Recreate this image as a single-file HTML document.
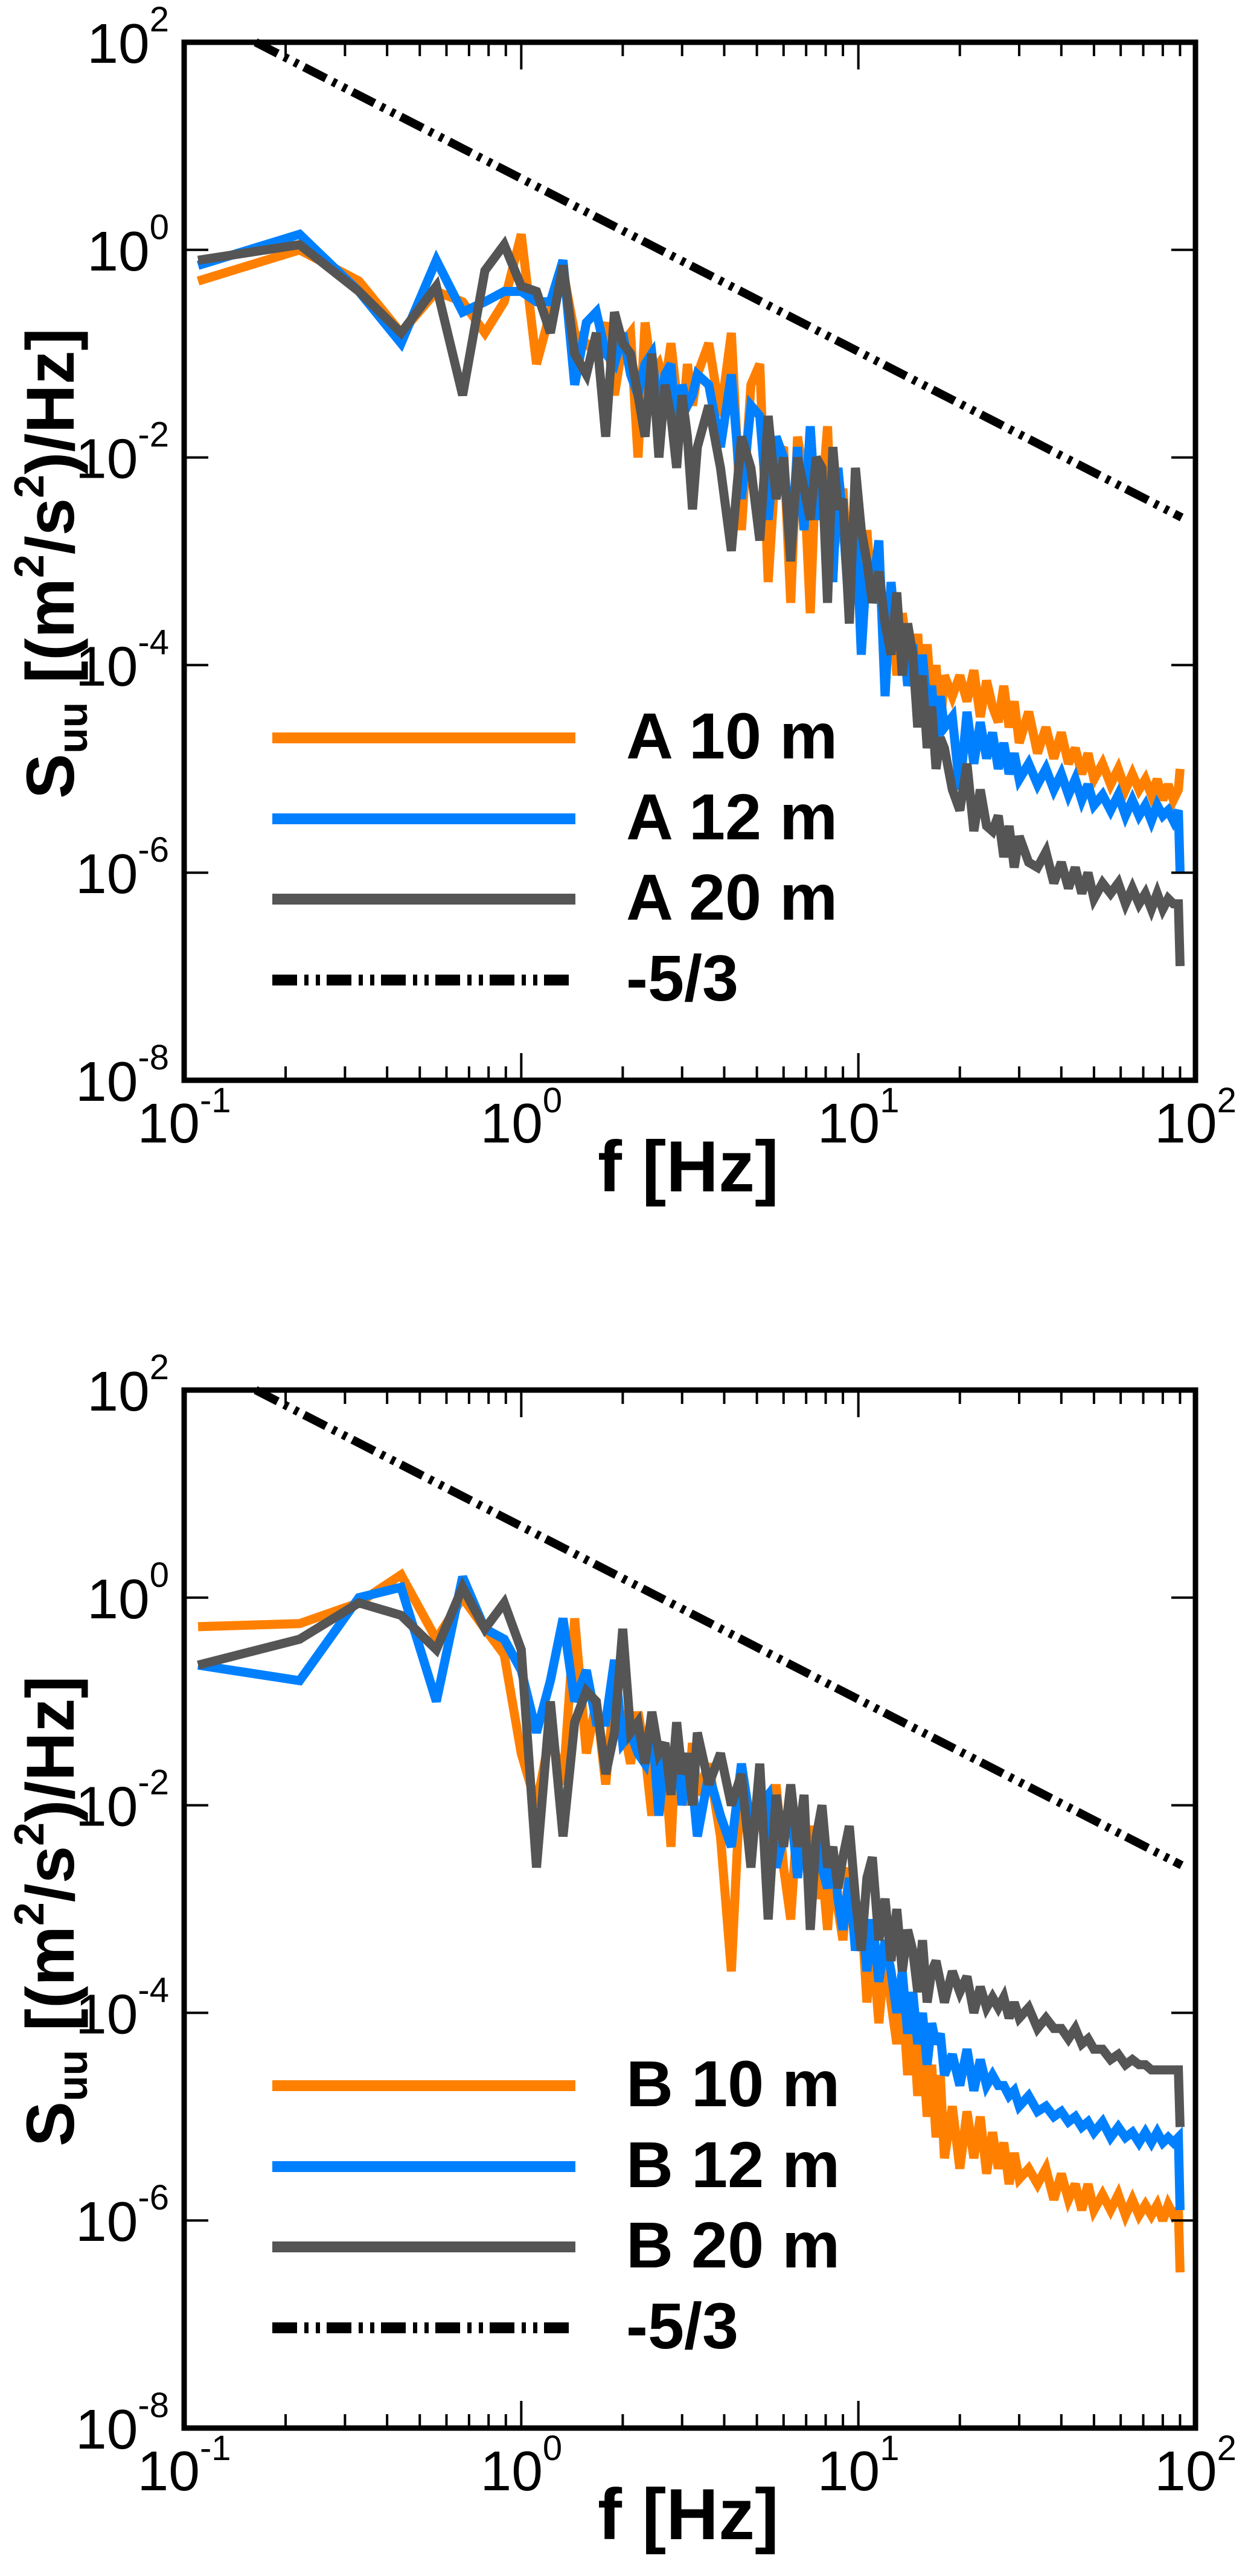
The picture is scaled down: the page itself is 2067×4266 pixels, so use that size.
<!DOCTYPE html>
<html><head><meta charset="utf-8"><style>
html,body{margin:0;padding:0;background:#fff;}
svg{display:block;font-family:"Liberation Sans",Arial,sans-serif;}
</style></head><body>
<svg id="fig" width="2067" height="4266" viewBox="0 0 2067 4266" xmlns="http://www.w3.org/2000/svg"></svg>
<script>
// ---- data (shared frequency grid, Hz) ----
const freqs = [0.11,0.22,0.33,0.44,0.56,0.67,0.78,0.89,1.0,1.11,1.22,1.33,1.44,1.56,1.67,1.78,1.89,2.0,2.11,2.22,2.33,2.44,2.56,2.67,2.78,2.89,3.0,3.11,3.22,3.33,
3.6,3.9,4.2,4.5,4.8,5.1,5.4,5.7,6.0,6.3,6.6,6.9,7.2,7.5,7.8,8.1,8.4,8.7,9.0,9.4,9.8,10.2,10.6,11.0,11.5,12,12.5,13,13.5,14,14.5,15,15.5,16,16.5,17,17.5,18,19,20,
21,22,23,24,25,26,27,28,29,30,32,34,36,38,40,42,44,46,48,50,53,56,59,62,65,68,71,74,77,80,83,86,89,90];
// log10 of S_uu
const logA10 = [-0.3,0.0,-0.3,-0.8,-0.4,-0.5,-0.8,-0.5,0.15,-1.1,-0.6,-0.2,-0.8,-0.9,-1.0,-0.7,-1.4,-0.9,-0.8,-2.0,-0.7,-1.2,-1.1,-1.3,-0.9,-1.4,-1.7,-1.1,-1.5,-1.2,
-0.9,-1.6,-0.8,-2.7,-1.3,-1.1,-3.2,-2.0,-1.9,-3.4,-1.8,-2.2,-3.5,-2.0,-2.4,-1.7,-3.0,-2.6,-2.3,-3.3,-2.8,-3.7,-2.7,-3.4,-2.9,-3.9,-3.3,-4.1,-3.5,-3.9,-4.2,-3.7,-4.5,-3.8,-4.4,-4.0,-4.6,-4.1,-4.3,-4.1,
-4.35,-4.05,-4.5,-4.15,-4.4,-4.55,-4.2,-4.6,-4.35,-4.75,-4.45,-4.85,-4.6,-4.9,-4.65,-4.95,-4.8,-5.05,-4.85,-5.1,-4.95,-5.15,-5.0,-5.2,-5.05,-5.2,-5.1,-5.25,-5.1,-5.3,-5.15,-5.3,-5.2,-5.0];
const logA12 = [-0.15,0.15,-0.4,-0.9,-0.1,-0.6,-0.5,-0.4,-0.4,-0.5,-0.5,-0.1,-1.3,-0.7,-0.6,-1.0,-1.1,-0.8,-1.2,-1.4,-1.1,-1.0,-1.6,-1.2,-1.1,-1.8,-1.3,-1.5,-1.4,-1.2,
-1.3,-1.9,-1.2,-2.4,-1.5,-1.6,-2.6,-1.8,-2.0,-2.9,-1.9,-2.7,-1.7,-2.6,-2.2,-2.4,-3.2,-2.1,-2.6,-3.5,-2.5,-3.9,-3.0,-3.3,-2.8,-4.3,-3.2,-3.8,-3.6,-4.2,-3.8,-4.6,-3.9,-4.4,-4.2,-4.7,-4.3,-4.6,-4.5,-5.2,
-4.45,-4.95,-4.55,-4.9,-4.65,-5.0,-4.75,-5.05,-4.85,-5.1,-4.95,-5.15,-5.0,-5.2,-5.05,-5.25,-5.1,-5.3,-5.15,-5.35,-5.25,-5.4,-5.25,-5.45,-5.3,-5.45,-5.35,-5.5,-5.35,-5.45,-5.4,-5.5,-5.4,-6.0];
const logA20 = [-0.1,0.05,-0.4,-0.8,-0.35,-1.4,-0.2,0.05,-0.35,-0.4,-0.8,-0.15,-1.0,-1.2,-0.8,-1.8,-0.6,-0.9,-1.0,-1.4,-1.8,-1.0,-2.0,-1.3,-1.6,-2.1,-1.4,-1.8,-2.5,-1.9,
-1.5,-2.1,-2.9,-1.8,-2.1,-2.8,-1.6,-2.4,-2.0,-3.0,-2.0,-2.3,-2.6,-2.0,-2.1,-3.4,-1.9,-2.5,-2.4,-3.6,-2.1,-2.7,-3.0,-3.4,-3.1,-3.6,-3.9,-3.3,-4.1,-3.6,-3.9,-4.6,-4.1,-4.8,-4.4,-5.0,-4.7,-4.8,-5.2,-5.4,
-4.95,-5.6,-5.2,-5.55,-5.6,-5.45,-5.85,-5.55,-5.95,-5.65,-5.9,-5.95,-5.8,-6.1,-5.9,-6.15,-5.95,-6.2,-6.0,-6.25,-6.1,-6.2,-6.1,-6.3,-6.15,-6.3,-6.2,-6.35,-6.2,-6.35,-6.25,-6.3,-6.3,-6.9];
const logB10 = [-0.28,-0.25,-0.05,0.22,-0.4,0.0,-0.3,-0.55,-1.5,-2.0,-1.3,-1.8,-0.2,-1.5,-1.0,-1.8,-0.9,-1.2,-1.6,-1.1,-1.5,-2.1,-1.4,-1.6,-2.4,-1.2,-1.7,-2.0,-1.4,-1.9,
-1.6,-2.3,-3.6,-1.6,-2.4,-2.0,-2.5,-1.8,-2.6,-3.1,-2.1,-2.5,-2.2,-2.9,-2.6,-3.2,-2.5,-3.0,-3.3,-2.6,-3.4,-3.0,-3.9,-3.3,-4.1,-3.4,-3.9,-4.3,-3.8,-4.6,-4.0,-4.8,-4.3,-5.0,-4.5,-5.2,-4.6,-5.4,-4.9,-5.5,
-4.95,-5.4,-5.0,-5.55,-5.15,-5.5,-5.25,-5.65,-5.35,-5.6,-5.5,-5.65,-5.5,-5.8,-5.55,-5.8,-5.65,-5.9,-5.65,-5.9,-5.75,-5.9,-5.75,-5.95,-5.8,-5.95,-5.85,-5.95,-5.85,-6.0,-5.85,-5.95,-5.9,-6.5];
const logB12 = [-0.65,-0.8,0.0,0.1,-1.0,0.2,-0.3,-0.4,-0.7,-1.3,-0.8,-0.2,-1.0,-0.7,-1.2,-1.2,-0.6,-1.4,-1.3,-1.5,-1.6,-1.2,-2.1,-1.5,-1.8,-1.4,-2.0,-1.5,-1.8,-2.3,
-1.7,-2.1,-2.4,-1.6,-2.2,-2.0,-1.9,-2.6,-2.3,-2.0,-2.7,-2.1,-2.9,-2.3,-2.6,-2.8,-2.4,-2.9,-3.2,-2.7,-3.4,-3.0,-3.6,-3.1,-3.7,-3.3,-3.6,-4.0,-3.6,-4.2,-3.8,-4.3,-4.0,-4.5,-4.1,-4.3,-4.2,-4.6,-4.4,-4.7,
-4.35,-4.75,-4.45,-4.7,-4.6,-4.7,-4.7,-4.8,-4.75,-4.9,-4.8,-4.95,-4.9,-5.0,-4.95,-5.05,-5.0,-5.1,-5.05,-5.15,-5.05,-5.2,-5.1,-5.2,-5.15,-5.25,-5.15,-5.25,-5.15,-5.25,-5.2,-5.25,-5.2,-5.9];
const logB20 = [-0.65,-0.4,-0.05,-0.17,-0.5,0.1,-0.3,-0.05,-0.5,-2.6,-1.0,-2.3,-1.2,-0.9,-1.0,-1.7,-1.3,-0.3,-1.3,-1.2,-1.6,-1.1,-1.5,-1.4,-1.9,-1.2,-1.7,-1.5,-2.0,-1.3,
-1.8,-1.5,-2.0,-1.7,-2.6,-1.6,-3.1,-1.9,-2.4,-1.8,-2.4,-1.9,-3.2,-2.3,-2.0,-2.6,-2.4,-2.8,-2.5,-2.2,-2.9,-3.4,-2.7,-2.5,-3.3,-2.9,-3.5,-3.0,-3.6,-3.2,-3.4,-3.8,-3.3,-3.9,-3.6,-3.5,-3.7,-3.9,-3.6,-3.8,
-3.65,-4.0,-3.75,-3.95,-3.85,-3.95,-3.85,-4.05,-3.9,-4.05,-3.95,-4.15,-4.05,-4.15,-4.15,-4.25,-4.15,-4.3,-4.25,-4.35,-4.35,-4.45,-4.4,-4.5,-4.45,-4.5,-4.5,-4.55,-4.55,-4.55,-4.55,-4.55,-4.55,-5.1];
const slopeF = [0.163, 91];       // reference -5/3 line frequency range
const slopeStartLog = 2;          // log10 value at slopeF[0]
const xTickExps = [-1,0,1,2];
const yTickExps = [2,0,-2,-4,-6,-8];
const namesA = ["A 10 m","A 12 m","A 20 m","-5/3"];
const namesB = ["B 10 m","B 12 m","B 20 m","-5/3"];

const NS="http://www.w3.org/2000/svg";
const svg=document.getElementById('fig');
const COLORS=["#FF8000","#0080FF","#555555"];
function mk(tag,attrs,parent){const e=document.createElementNS(NS,tag);for(const k in attrs)e.setAttribute(k,attrs[k]);(parent||svg).appendChild(e);return e;}

function drawPanel(id,T,series,names){
  const L=305,R=1980,B=T+1719;
  const g=mk('g',{});
  
  
  const xs=lf=>L+(lf+1)*(R-L)/3;
  const ys=lv=>T+(2-lv)*(B-T)/10;
  const clip=mk('clipPath',{id:id+'clip'},g);
  mk('rect',{x:L,y:T,width:R-L,height:B-T},clip);
  series.forEach((s,i)=>{
    let d='';
    const n=Math.min(s.length,freqs.length);
    for(let k=0;k<n;k++){d+=(k?'L':'M')+xs(Math.log10(freqs[k])).toFixed(1)+','+ys(s[k]).toFixed(1);}
    const p=mk('path',{d:d,fill:'none',stroke:COLORS[i],'stroke-width':15,'stroke-linejoin':'miter','stroke-miterlimit':3,'clip-path':'url(#'+id+'clip)'},g);
    
    
  });
  const l0=Math.log10(slopeF[0]),l1=Math.log10(slopeF[1]);
  const ref=mk('line',{x1:xs(l0),y1:ys(slopeStartLog),x2:xs(l1),y2:ys(slopeStartLog-5/3*(l1-l0)),stroke:'#000','stroke-width':14,'stroke-dasharray':'41 12 7 12 7 11'},g);
  
  
  const fr=mk('rect',{x:L,y:T,width:R-L,height:B-T,fill:'none',stroke:'#000','stroke-width':9},g);
  
  
  let td='';
  for(let dcd=-1;dcd<2;dcd++){for(let m=1;m<10;m++){const x=xs(dcd+Math.log10(m));const len=m===1?45:23;if(m===1&&dcd===-1)continue;td+=`M${x},${B}v${-len}M${x},${T}v${len}`;}}
  for(const e of yTickExps){const y=ys(e);td+=`M${L},${y}h40M${R},${y}h-40`;}
  const tk=mk('path',{d:td,stroke:'#000','stroke-width':4,fill:'none'},g);
  
  
  xTickExps.forEach(e=>{
    const t=mk('text',{x:xs(e),y:B+103,'font-size':93,'text-anchor':'middle'},g);
    
    
    t.appendChild(document.createTextNode('10'));
    const sp=mk('tspan',{dy:-50,'font-size':58},t);sp.textContent=e<0?('-'+(-e)):String(e);
  });
  yTickExps.forEach(e=>{
    const t=mk('text',{x:280,y:ys(e)+34,'font-size':93,'text-anchor':'end'},g);
    
    
    t.appendChild(document.createTextNode('10'));
    const sp=mk('tspan',{dy:-52,'font-size':58},t);sp.textContent=e<0?('-'+(-e)):String(e);
  });
  const xt=mk('text',{x:1140,y:B+184,'font-size':120,'font-weight':'bold','text-anchor':'middle'},g);
  
  
  xt.textContent='f [Hz]';
  const yt=mk('text',{x:0,y:0,'font-size':112,'font-weight':'bold','text-anchor':'middle',transform:`translate(122,${T+863}) rotate(-90)`},g);
  
  
  yt.appendChild(document.createTextNode('S'));
  let s1=mk('tspan',{dy:22,'font-size':70},yt);s1.textContent='uu';
  let s2=mk('tspan',{dy:-22},yt);s2.textContent=' [(m';
  let s3=mk('tspan',{dy:-50,'font-size':70},yt);s3.textContent='2';
  let s4=mk('tspan',{dy:50},yt);s4.textContent='/s';
  let s5=mk('tspan',{dy:-50,'font-size':70},yt);s5.textContent='2';
  let s6=mk('tspan',{dy:50},yt);s6.textContent=')/Hz]';
  const legY=[T+1152,T+1286,T+1419,T+1553];
  const lg=mk('g',{},g);
  
  
  names.forEach((nm,i)=>{
    const ln=mk('line',{x1:451,x2:953,y1:legY[i],y2:legY[i],stroke:i<3?COLORS[i]:'#000','stroke-width':18},lg);
    if(i===3)ln.setAttribute('stroke-dasharray','41 12 7 12 7 11');
    
    
    const t=mk('text',{x:1037,y:legY[i]+34,'font-size':108,'font-weight':'bold'},lg);
    
    
    t.textContent=nm;
  });
}
drawPanel('panel-a',70,[logA10,logA12,logA20],namesA);
drawPanel('panel-b',2302,[logB10,logB12,logB20],namesB);
</script>
</body></html>
